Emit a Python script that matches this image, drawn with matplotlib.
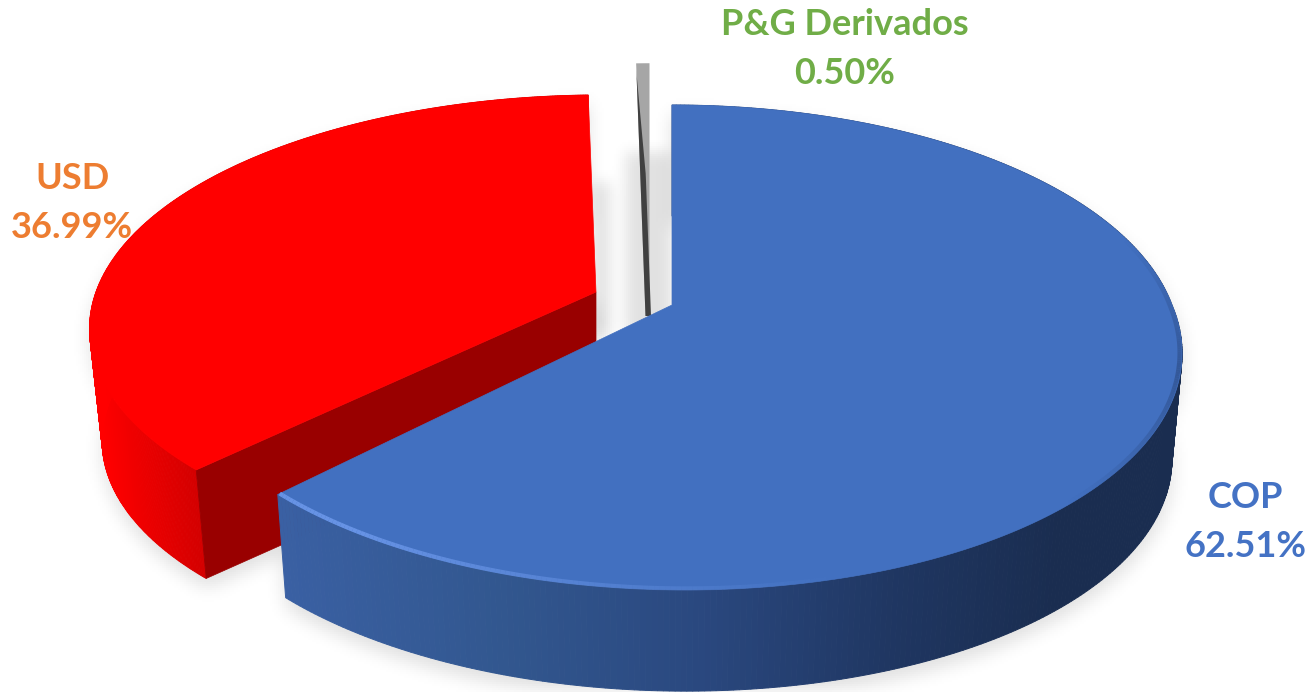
import numpy as np
import matplotlib
matplotlib.use("Agg")
import matplotlib.pyplot as plt
from matplotlib.patches import Polygon
from matplotlib.path import Path
from matplotlib.collections import LineCollection
from matplotlib.colors import to_rgb

# ---- data ----
categories = ["COP", "USD", "P&G Derivados"]
shares = [62.51, 36.99, 0.50]
label_colors = ["#4472C4", "#ED7D31", "#70AD47"]

# ---- 3D pie geometry (pixel space) ----
W, H = 1312, 692
fig = plt.figure(figsize=(W / 100, H / 100), dpi=100)
ax = fig.add_axes([0, 0, 1, 1])
ax.set_xlim(0, W)
ax.set_ylim(H, 0)
ax.axis("off")

fractions = np.array(shares) / sum(shares)
edges = np.concatenate([[0], np.cumsum(fractions)]) * 360.0
spans = list(zip(edges[:-1], edges[1:]))

# per-slice view: apex, radii, perspective, lean, depth
views = [
    dict(cx=672, cy=305, A=500, B=235, k=0.175, lean=0.0, lean_low=-0.05, depth=107, s=0.98),
    dict(cx=596, cy=292, A=500, B=225.8, k=0.146, lean=0.03, lean_low=0.03, depth=113, s=0.975),
    dict(cx=649.5, cy=316, A=500, B=297, k=0.175, lean=0.0, lean_low=0.0, depth=0, s=1.0),
]


def project(v, theta, r=1.0, lower=False):
    th = np.radians(theta)
    s, c = np.sin(th), np.cos(th)
    den = 1 + v["k"] * c
    X = r * v["A"] * s / den
    Y = r * v["B"] * c / den
    x = v["cx"] + X + np.where(Y > 0, v["lean"], v["lean_low"]) * Y
    y = v["cy"] - Y
    if lower:
        x = v["cx"] + (x - v["cx"]) * v["s"]
        y = v["cy"] + (y - v["cy"]) * v["s"] + v["depth"]
    return np.column_stack([np.atleast_1d(x), np.atleast_1d(y)])


def arc(a, b, n=240):
    return np.linspace(a, b, n)


def mix(c1, c2, t):
    return tuple((1 - t) * np.array(to_rgb(c1)) + t * np.array(to_rgb(c2)))


def solid_outline(v, a, b):
    t = arc(a, b)
    return np.vstack([
        [[v["cx"], v["cy"]]], project(v, t),
        project(v, t[::-1], lower=True),
        [[v["cx"], v["cy"] + v["depth"]]],
    ])


# ---- soft shadows (a blurred mask drawn beneath the pie) ----
yy, xx = np.mgrid[0:H, 0:W]
pts = np.column_stack([xx.ravel() + 0.5, yy.ravel() + 0.5])


def box_blur(a, r):
    size = 2 * r + 1
    kern = np.ones(size) / size
    for _ in range(3):
        a = np.apply_along_axis(lambda m: np.convolve(m, kern, mode="same"), 0, a)
        a = np.apply_along_axis(lambda m: np.convolve(m, kern, mode="same"), 1, a)
    return a


mask = np.zeros((H, W))
for i in (0, 1):
    v = views[i]
    outline = solid_outline(v, *spans[i]) + np.array([0, 9])
    mask = np.maximum(mask, Path(outline).contains_points(pts).reshape(H, W).astype(float))
small = box_blur(mask[::2, ::2], 4)
blur = np.kron(small, np.ones((2, 2)))[:H, :W]
rgba = np.zeros((H, W, 4))
rgba[..., 3] = blur * 0.13
ax.imshow(rgba, extent=(0, W, H, 0), zorder=1, interpolation="bilinear", aspect="auto")

# back wall shadow between the slices
back = np.zeros((H, W))
back[182:335, 592:610] = 1
back[152:335, 626:672] = 1
back_soft = np.kron(box_blur(back[::2, ::2], 3), np.ones((2, 2)))[:H, :W]
rgba2 = np.zeros((H, W, 4))
rgba2[..., 3] = back_soft * 0.12
ax.imshow(rgba2, extent=(0, W, H, 0), zorder=1.5, interpolation="bilinear", aspect="auto")
ax.set_xlim(0, W)
ax.set_ylim(H, 0)


def draw_side(v, a, b, color_at, z):
    t = arc(a, b, 400)
    up = project(v, t)
    lo = project(v, t, lower=True)
    for j in range(len(t) - 1):
        quad = [up[j], up[j + 1], lo[j + 1], lo[j]]
        c = color_at(0.5 * (up[j, 0] + up[j + 1, 0]))
        ax.add_patch(Polygon(quad, closed=True, facecolor=c, edgecolor=c, lw=0.7, zorder=z))


def blue_side(x):
    stops_x = [280, 500, 700, 900, 1060, 1200]
    stops = ["#3A60A3", "#32578F", "#2A487F", "#1F3661", "#1A2D50", "#1A2D50"]
    i = np.clip(np.searchsorted(stops_x, x) - 1, 0, len(stops) - 2)
    return mix(stops[i], stops[i + 1], np.clip((x - stops_x[i]) / (stops_x[i + 1] - stops_x[i]), 0, 1))


def red_side(x):
    return mix("#FF0000", "#D20000", np.clip((x - 95) / 105, 0, 1))


# ---- grey sliver (third slice) ----
v = views[2]
a, b = spans[2]
t = arc(a, b, 20)
apex_w = 4.0
ax.add_patch(Polygon(np.vstack([[[v["cx"], v["cy"]]], [[v["cx"], v["cy"] - 253]],
                                project(v, t[::-1]), [[v["cx"] - apex_w, v["cy"]]]]),
                     closed=True, facecolor="#A6A6A6", edgecolor="none", zorder=3))
left_rim = project(v, a)[0]
tt = np.linspace(0, 1, 40)
lx = (v["cx"] - apex_w) + (left_rim[0] - (v["cx"] - apex_w)) * tt
ly = v["cy"] + (left_rim[1] - v["cy"]) * tt
wid = 5.5 * np.minimum(1, (0.96 - tt).clip(0) / 0.4)
ax.add_patch(Polygon(np.vstack([np.column_stack([lx, ly]),
                                np.column_stack([lx + wid, ly])[::-1]]),
                     closed=True, facecolor="#404040", edgecolor="none", zorder=3.1))

# ---- red slice (second) ----
v = views[1]
a, b = spans[1]
draw_side(v, a, b, red_side, 4)
tip_up = project(v, a)[0]
tip_lo = project(v, a, lower=True)[0]
ax.add_patch(Polygon([[v["cx"], v["cy"]], tip_up, tip_lo, [v["cx"], v["cy"] + v["depth"]]],
                     closed=True, facecolor="#990000", edgecolor="#990000", lw=0.5, zorder=4.5))
t = arc(a, b)
ax.add_patch(Polygon(np.vstack([[[v["cx"], v["cy"]]], project(v, t)]), closed=True,
                     facecolor="#FF0000", edgecolor="#FF0000", lw=0.5, zorder=5))

# ---- blue slice (first) ----
v = views[0]
a, b = spans[0]
draw_side(v, a, b, blue_side, 6)
t = arc(a, b)
ax.add_patch(Polygon(np.vstack([[[v["cx"], v["cy"]]], project(v, t)]), closed=True,
                     facecolor="#4270C0", edgecolor="#4270C0", lw=0.5, zorder=7))

# bevel highlight and shade along the rim
t = arc(a + 70, b, 300)
rim = project(v, t, r=0.995)
segs = np.stack([rim[:-1], rim[1:]], axis=1)
cols = []
for th in t[:-1]:
    if th < 150:
        cols.append((*to_rgb("#2A487F"), 0.6 * np.clip(1 - abs(th - 105) / 32, 0, 1)))
    else:
        cols.append((*to_rgb("#6C98EA"), 0.9 * np.clip((th - 165) / 50, 0, 1)))
ax.add_collection(LineCollection(segs, colors=cols, linewidths=3, zorder=7.5))

# ---- labels ----
label_pos = [(1245, 522), (72, 203), (845, 49)]
for name, val, col, (x, y) in zip(categories, shares, label_colors, label_pos):
    ax.text(x, y, f"{name}\n{val:.2f}%", color=col, ha="center", va="center",
            fontsize=26, fontweight="bold", family="Lato", linespacing=1.62, zorder=10)

fig.savefig("out.png", dpi=100, facecolor="white")
